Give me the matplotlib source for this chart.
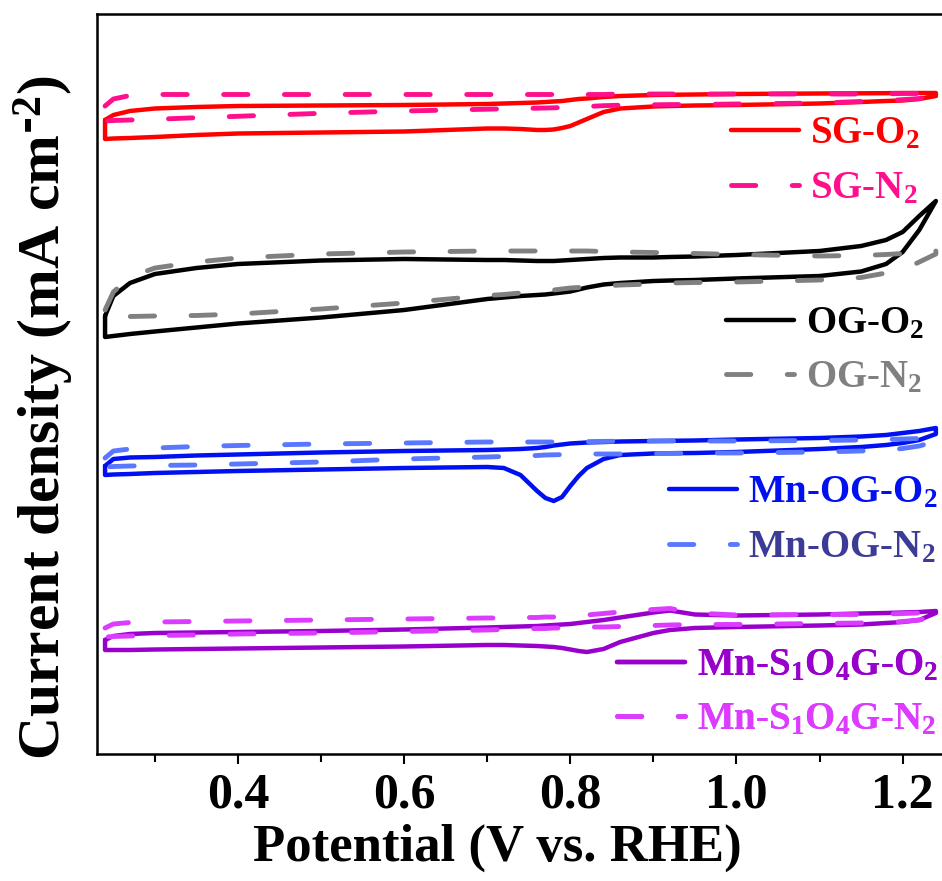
import matplotlib
matplotlib.use("Agg")
import matplotlib.pyplot as plt
from matplotlib.ticker import MultipleLocator

# Potential grid (V vs. RHE) shared by all CV branches
potential = [0.24, 0.25, 0.27, 0.30, 0.35, 0.40, 0.50, 0.60, 0.70, 0.72, 0.74, 0.76, 0.77, 0.78,
             0.79, 0.80, 0.81, 0.82, 0.84, 0.86, 0.90, 0.92, 0.95, 1.00, 1.10, 1.15, 1.18, 1.20, 1.22, 1.24]

# Current density (offset, arbitrary units): upper (anodic) and lower (cathodic) branches
sg_o2_up = [6.80, 6.85, 6.89, 6.915, 6.93, 6.94, 6.945, 6.95, 6.96, 6.965, 6.97, 6.975, 6.98, 6.985,
            6.99, 7.00, 7.01, 7.015, 7.03, 7.04, 7.05, 7.052, 7.055, 7.06, 7.065, 7.067, 7.068, 7.07, 7.07, 7.07]
sg_o2_down = [6.61, 6.615, 6.62, 6.63, 6.65, 6.665, 6.675, 6.685, 6.715, 6.715, 6.71, 6.70, 6.70, 6.705,
              6.72, 6.74, 6.775, 6.81, 6.88, 6.915, 6.935, 6.94, 6.945, 6.95, 6.965, 6.98, 6.99, 6.995, 7.01, 7.04]
sg_n2_up = [6.94, 7.01, 7.045, 7.055, 7.055, 7.055, 7.055, 7.055, 7.055, 7.055, 7.055, 7.055, 7.055, 7.055,
            7.055, 7.055, 7.055, 7.055, 7.055, 7.06, 7.06, 7.06, 7.06, 7.06, 7.06, 7.06, 7.062, 7.065, 7.065, 7.065]
sg_n2_down = [6.79, 6.795, 6.80, 6.807, 6.823, 6.837, 6.867, 6.89, 6.908, 6.912, 6.915, 6.918, 6.92, 6.922,
              6.925, 6.927, 6.93, 6.935, 6.943, 6.948, 6.952, 6.954, 6.955, 6.96, 6.97, 6.985, 6.995, 7.003, 7.015, 7.04]

og_o2_up = [4.84, 5.04, 5.17, 5.26, 5.32, 5.36, 5.395, 5.41, 5.40, 5.40, 5.395, 5.39, 5.39, 5.39,
            5.395, 5.40, 5.405, 5.41, 5.42, 5.425, 5.425, 5.43, 5.435, 5.45, 5.49, 5.54, 5.60, 5.68, 5.84, 5.99]
og_o2_down = [4.63, 4.64, 4.66, 4.685, 4.725, 4.765, 4.825, 4.90, 5.01, 5.025, 5.04, 5.05, 5.055, 5.065,
              5.075, 5.085, 5.105, 5.125, 5.155, 5.17, 5.19, 5.195, 5.20, 5.215, 5.24, 5.285, 5.36, 5.48, 5.70, 5.99]
og_n2_up = [4.90, 5.08, 5.23, 5.32, 5.38, 5.42, 5.46, 5.48, 5.49, 5.49, 5.49, 5.49, 5.49, 5.49,
            5.49, 5.49, 5.49, 5.49, 5.485, 5.48, 5.475, 5.47, 5.465, 5.455, 5.44, 5.445, 5.455, 5.465, 5.48, 5.49]
og_n2_down = [4.83, 4.83, 4.835, 4.84, 4.845, 4.86, 4.91, 4.97, 5.045, 5.055, 5.07, 5.08, 5.09, 5.10,
              5.11, 5.12, 5.125, 5.13, 5.14, 5.15, 5.16, 5.17, 5.175, 5.18, 5.20, 5.225, 5.27, 5.30, 5.38, 5.46]

mnog_o2_up = [3.34, 3.41, 3.425, 3.43, 3.445, 3.455, 3.475, 3.49, 3.50, 3.505, 3.51, 3.52, 3.53, 3.545,
              3.555, 3.565, 3.57, 3.575, 3.58, 3.585, 3.59, 3.592, 3.595, 3.605, 3.62, 3.635, 3.65, 3.67, 3.69, 3.72]
mnog_o2_down = [3.25, 3.255, 3.26, 3.27, 3.28, 3.29, 3.305, 3.32, 3.33, 3.32, 3.25, 3.09, 3.02, 2.99,
                3.03, 3.14, 3.24, 3.32, 3.41, 3.45, 3.465, 3.468, 3.47, 3.48, 3.51, 3.53, 3.55, 3.57, 3.60, 3.66]
mnog_n2_up = [3.42, 3.49, 3.51, 3.52, 3.535, 3.545, 3.56, 3.57, 3.58, 3.58, 3.58, 3.58, 3.58, 3.58,
              3.58, 3.58, 3.582, 3.584, 3.586, 3.588, 3.59, 3.59, 3.59, 3.59, 3.595, 3.60, 3.605, 3.61, 3.615, 3.63]
mnog_n2_down = [3.33, 3.335, 3.34, 3.345, 3.35, 3.36, 3.38, 3.41, 3.43, 3.435, 3.44, 3.445, 3.45, 3.452,
                3.454, 3.456, 3.458, 3.46, 3.46, 3.46, 3.465, 3.465, 3.47, 3.47, 3.48, 3.49, 3.50, 3.515, 3.54, 3.59]

mnso_o2_up = [1.60, 1.64, 1.66, 1.67, 1.675, 1.68, 1.69, 1.705, 1.725, 1.73, 1.735, 1.74, 1.745, 1.75,
              1.755, 1.76, 1.77, 1.78, 1.80, 1.825, 1.875, 1.895, 1.855, 1.845, 1.855, 1.865, 1.87, 1.875, 1.88, 1.89]
mnso_o2_down = [1.50, 1.50, 1.50, 1.505, 1.51, 1.515, 1.525, 1.535, 1.55, 1.55, 1.545, 1.54, 1.535, 1.53,
                1.52, 1.505, 1.49, 1.48, 1.51, 1.58, 1.67, 1.70, 1.72, 1.73, 1.745, 1.755, 1.77, 1.78, 1.80, 1.87]
mnso_n2_up = [1.72, 1.76, 1.775, 1.78, 1.785, 1.79, 1.80, 1.81, 1.82, 1.82, 1.825, 1.825, 1.83, 1.83,
              1.835, 1.84, 1.845, 1.85, 1.865, 1.88, 1.905, 1.915, 1.87, 1.85, 1.855, 1.855, 1.86, 1.865, 1.87, 1.88]
mnso_n2_down = [1.63, 1.635, 1.64, 1.645, 1.65, 1.66, 1.67, 1.685, 1.70, 1.705, 1.71, 1.715, 1.715, 1.72,
                1.72, 1.725, 1.725, 1.73, 1.73, 1.735, 1.745, 1.75, 1.755, 1.755, 1.765, 1.77, 1.775, 1.785, 1.80, 1.84]

labels = ["SG-O$_2$", "SG-N$_2$", "OG-O$_2$", "OG-N$_2$",
          "Mn-OG-O$_2$", "Mn-OG-N$_2$", "Mn-S$_1$O$_4$G-O$_2$", "Mn-S$_1$O$_4$G-N$_2$"]
line_colors = ["#ff0000", "#ff0f8c", "#000000", "#808080",
               "#0010f0", "#5a78ff", "#9900cc", "#dc3cff"]
text_colors = ["#ff0000", "#ff0f8c", "#000000", "#808080",
               "#0010f0", "#3c3c96", "#9900cc", "#dc3cff"]

plt.rcParams["font.family"] = ["Liberation Serif", "DejaVu Serif"]
plt.rcParams["font.weight"] = "bold"
plt.rcParams["mathtext.default"] = "regular"

W, H = 942, 881
fig = plt.figure(figsize=(W / 100, H / 100), dpi=100)
ax_left, ax_right, ax_top, ax_bot = 96.5, 952.5, 14, 754
ax = fig.add_axes([ax_left / W, 1 - ax_bot / H, (ax_right - ax_left) / W, (ax_bot - ax_top) / H])
ax.set_xlim(0.2297, 1.26)
ax.set_ylim(0.46, 7.86)


def loop(up, down):
    xs = list(potential) + list(potential[::-1]) + [potential[0]]
    ys = list(up) + list(down[::-1]) + [up[0]]
    return xs, ys


curves = [(sg_o2_up, sg_o2_down), (sg_n2_up, sg_n2_down),
          (og_o2_up, og_o2_down), (og_n2_up, og_n2_down),
          (mnog_o2_up, mnog_o2_down), (mnog_n2_up, mnog_n2_down),
          (mnso_o2_up, mnso_o2_down), (mnso_n2_up, mnso_n2_down)]

handles = []
for i, (up, down) in enumerate(curves):
    xs, ys = loop(up, down)
    if i % 2 == 0:
        h, = ax.plot(xs, ys, color=line_colors[i], lw=3.2, solid_capstyle="round",
                     solid_joinstyle="round", label=labels[i])
    else:
        h, = ax.plot(xs, ys, color=line_colors[i], lw=3.5, linestyle=(0, (5.0, 7.5)),
                     dash_capstyle="round", dash_joinstyle="round", label=labels[i])
    handles.append(h)

# legends, one per sample pair
pair_pos = [(920, 161.5), (924, 351), (938, 520.5), (938, 693)]
for k, (xp, yp) in enumerate(pair_pos):
    leg = ax.legend(handles[2 * k:2 * k + 2], labels[2 * k:2 * k + 2], loc="center right",
                    bbox_to_anchor=(xp / W, 1 - yp / H), bbox_transform=fig.transFigure,
                    frameon=False, fontsize=28, handlelength=1.75, handletextpad=0.3,
                    labelspacing=0.45, borderpad=0, borderaxespad=0,
                    labelcolor=text_colors[2 * k:2 * k + 2])
    ax.add_artist(leg)

for s in ax.spines.values():
    s.set_linewidth(1.8)

ax.xaxis.set_major_locator(MultipleLocator(0.2))
ax.xaxis.set_minor_locator(MultipleLocator(0.1))
ax.tick_params(axis="x", which="both", direction="out", top=False, width=1.5, labelsize=36, pad=6)
ax.tick_params(axis="x", which="major", length=7)
ax.tick_params(axis="x", which="minor", length=6)
ax.set_yticks([])

ax.set_xlabel("Potential (V vs. RHE)", fontsize=38, fontweight="bold", labelpad=4, x=0.468)
ax.set_ylabel(r"Current density (mA cm$^{\text{-}2}$)", fontsize=43, fontweight="bold",
              labelpad=15, y=0.455)

fig.savefig("out.png", dpi=100)
